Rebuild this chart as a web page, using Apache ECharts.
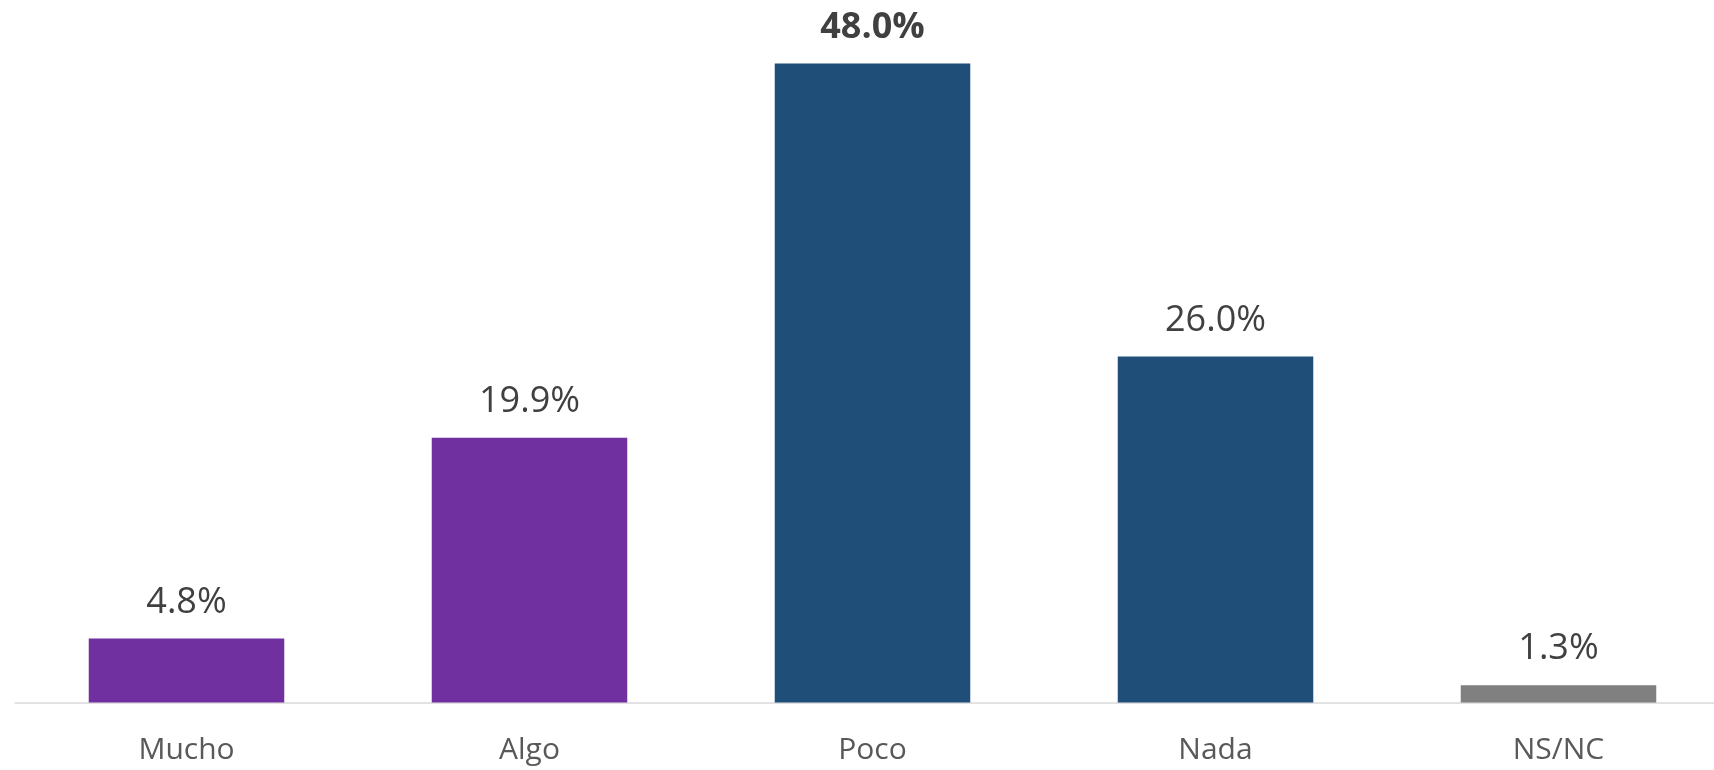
<!DOCTYPE html>
<html>
<head>
<meta charset="utf-8">
<script src="https://cdn.jsdelivr.net/npm/echarts@6/dist/echarts.min.js"></script>
<style>
html,body{margin:0;padding:0;background:#fff;}
#chart{width:1714px;height:770px;}
</style>
</head>
<body>
<div id="chart"></div>
<script>
const categories = ['Mucho', 'Algo', 'Poco', 'Nada', 'NS/NC'];
const values = [4.8, 19.9, 48.0, 26.0, 1.3];
const barColors = ['#7030A0', '#7030A0', '#1F4E79', '#1F4E79', '#808080'];
const boldIndex = 2;

const chart = echarts.init(document.getElementById('chart'));
chart.setOption({
  animation: false,
  grid: { left: 15, width: 1715, top: 37, bottom: 67.5, containLabel: false, outerBoundsMode: 'none' },
  xAxis: {
    type: 'category',
    data: categories,
    boundaryGap: true,
    axisLine: { show: true, lineStyle: { color: '#D9D9D9', width: 1.5 } },
    axisTick: { show: false },
    axisLabel: { color: '#595959', fontFamily: 'Open Sans', fontSize: 30, margin: 33 }
  },
  yAxis: {
    type: 'value', min: 0, max: 50, show: false,
    splitLine: { show: false }
  },
  series: [{
    type: 'bar',
    barWidth: '57%',
    data: values.map((v, i) => ({
      value: v,
      itemStyle: { color: barColors[i] },
      label: { fontWeight: i === boldIndex ? 'bold' : 'normal' }
    })),
    label: {
      show: true,
      position: 'top',
      distance: 18,
      color: '#404040',
      fontFamily: 'Open Sans',
      fontSize: 36,
      formatter: p => p.value.toFixed(1) + '%'
    }
  }]
});
</script>
</body>
</html>
